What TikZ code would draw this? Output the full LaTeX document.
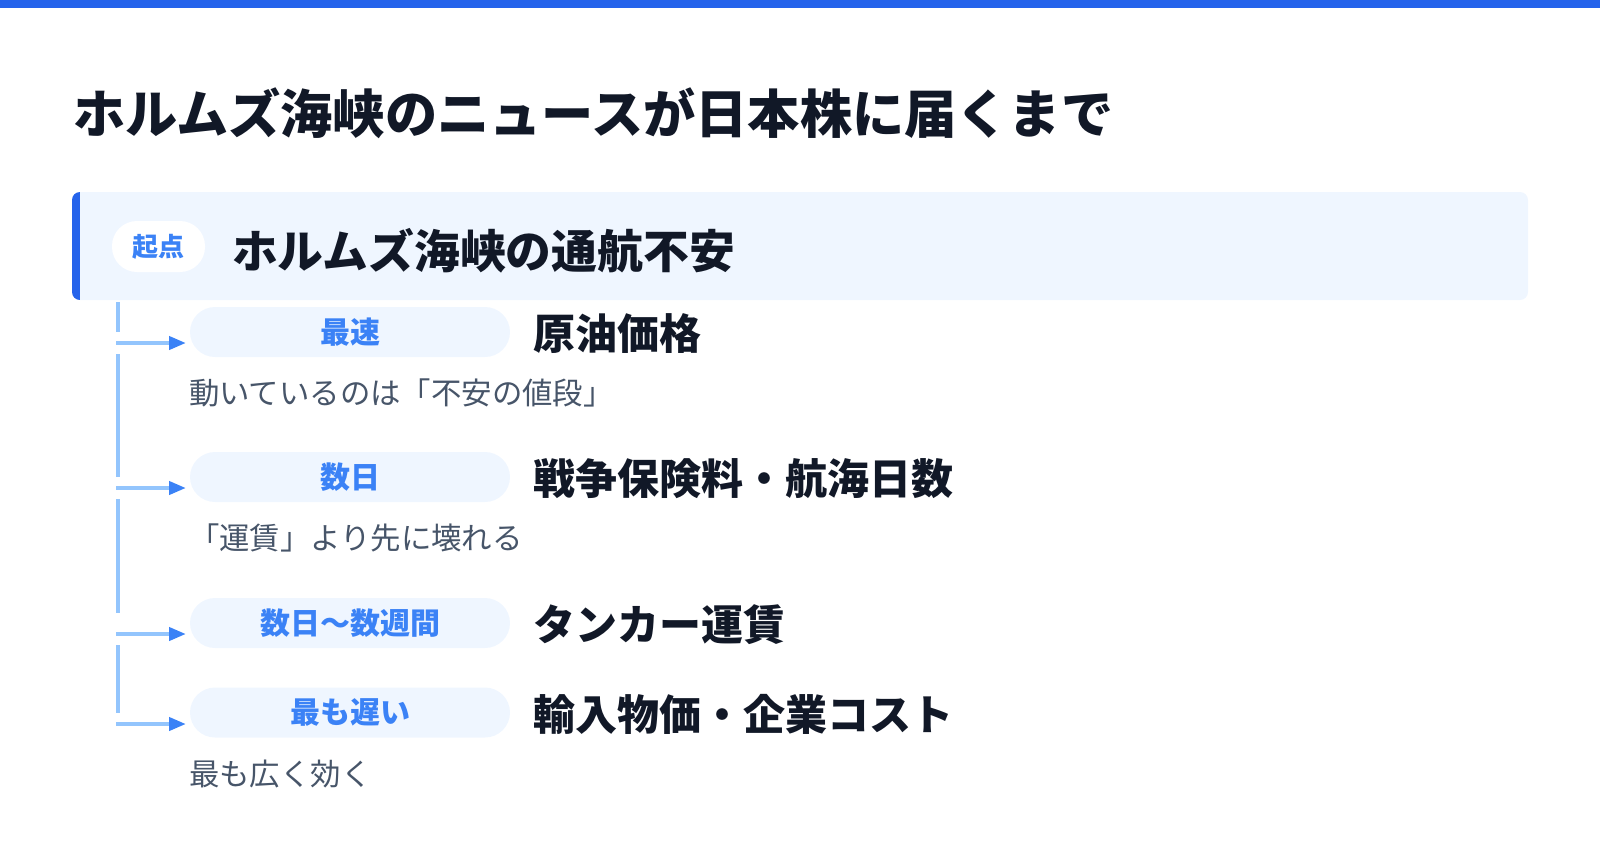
\documentclass[tikz,border=0pt]{standalone}
\usepackage{fontspec}
\setmainfont{Noto Sans CJK JP}
\usetikzlibrary{positioning,calc,arrows.meta}
\definecolor{barblue}{HTML}{2563EB}
\definecolor{paleblue}{HTML}{EFF6FF}
\definecolor{tagblue}{HTML}{3B82F6}
\definecolor{spineblue}{HTML}{93C5FD}
\definecolor{inkdark}{HTML}{111827}
\definecolor{inkgray}{HTML}{475569}

\begin{document}
\begin{tikzpicture}[
    x=0.5pt, y=-0.5pt,
    every node/.style={inner sep=0pt, outer sep=0pt},
    headline/.style={anchor=west, text=inkdark, font=\fontsize{26.1}{31}\selectfont\bfseries},
    stagebox/.style={fill=paleblue, rounded corners=12.5pt, minimum width=160pt, minimum height=25pt, text=tagblue, font=\fontsize{15}{18}\selectfont\bfseries},
    stagename/.style={anchor=west, text=inkdark, font=\fontsize{21}{25}\selectfont\bfseries},
    stagenote/.style={anchor=west, text=inkgray, font=\fontsize{15.2}{18}\selectfont},
    spine/.style={spineblue, line width=2pt},
    branch/.style={spineblue, line width=2pt, -{Triangle[length=8.5pt,width=6.5pt,color=tagblue]}}
]
    \useasboundingbox (0,0) rectangle (1600,858);
    \fill[barblue] (0,0) rectangle (1600,8);

    \node[headline] (title) at (73,113) {ホルムズ海峡のニュースが日本株に届くまで};

    % starting point
    \node[fill=paleblue, rounded corners=4pt, minimum width=728pt, minimum height=54pt] (hdr) at (800,246) {};
    \begin{scope}
        \clip[rounded corners=4pt] (hdr.south west) rectangle (hdr.north east);
        \fill[barblue] (hdr.south west) rectangle ([xshift=4pt]hdr.north west);
    \end{scope}
    \node[fill=white, rounded corners=12.5pt, minimum width=46.5pt, minimum height=25.5pt,
          text=tagblue, font=\fontsize{13}{16}\selectfont\bfseries] (start) at (158.5,246.5) {起点};
    \node[stagename, font=\fontsize{22.9}{27}\selectfont\bfseries] (route) at (232,251) {ホルムズ海峡の通航不安};

    % stages
    \node[stagebox] (p1) at (350,332) {最速};
    \node[stagename] (n1) at (533,334) {原油価格};
    \node[stagenote] (d1) at (189,393) {動いているのは「不安の値段」};

    \node[stagebox] (p2) at (350,477) {数日};
    \node[stagename] (n2) at (533,479) {戦争保険料・航海日数};
    \node[stagenote] (d2) at (189,538) {「運賃」より先に壊れる};

    \node[stagebox] (p3) at (350,623) {数日～数週間};
    \node[stagename] (n3) at (533,625) {タンカー運賃};

    \node[stagebox] (p4) at (350,712.5) {最も遅い};
    \node[stagename] (n4) at (533,714.5) {輸入物価・企業コスト};
    \node[stagenote] (d4) at (189,774) {最も広く効く};

    % timeline
    \foreach \a/\b in {302/332, 354/477, 499/613, 645/713}
        \draw[spine] (118,\a) -- (118,\b);
    \foreach \i/\y in {1/343, 2/488, 3/634, 4/724} {
        \coordinate (b\i) at (116,\y);
        \draw[branch] (b\i) -- ($(b\i -| p\i.west)+(-4,0)$);
    }
\end{tikzpicture}
\end{document}
